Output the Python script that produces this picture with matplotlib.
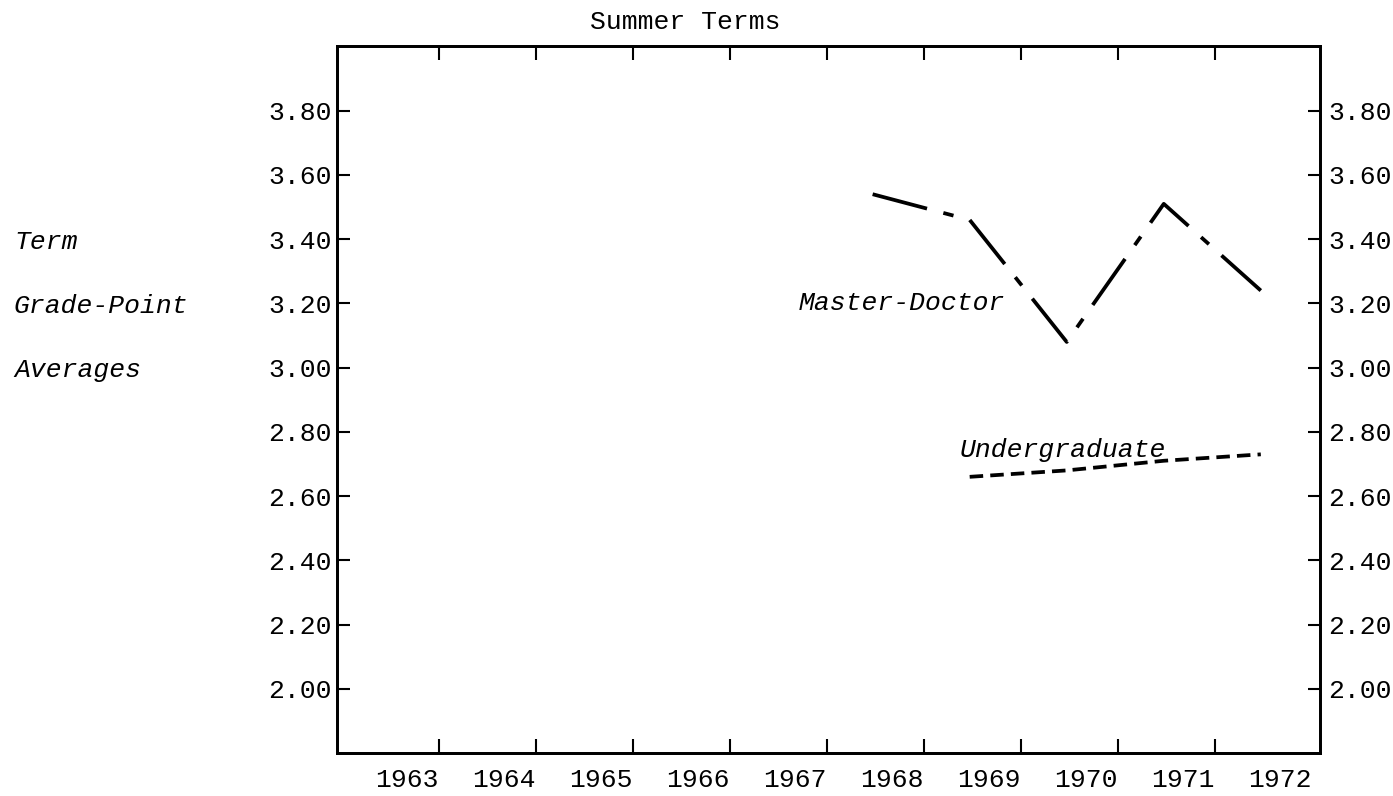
import matplotlib
matplotlib.use('Agg')
import matplotlib.pyplot as plt
import matplotlib.transforms as mtransforms

# data
years = [1963, 1964, 1965, 1966, 1967, 1968, 1969, 1970, 1971, 1972]
md_years = [1968, 1969, 1970, 1971, 1972]
md_gpa = [3.54, 3.46, 3.08, 3.51, 3.24]
ug_years = [1969, 1970, 1971, 1972]
ug_gpa = [2.66, 2.68, 2.71, 2.73]
gpa_ticks = [2.00, 2.20, 2.40, 2.60, 2.80, 3.00, 3.20, 3.40, 3.60, 3.80]
gpa_labels = ['2.00', '2.20', '2.40', '2.60', '2.80', '3.00', '3.20', '3.40', '3.60', '3.80']
side_words = ['Term', 'Grade-Point', 'Averages']

plt.rcParams['font.family'] = ['Liberation Mono', 'DejaVu Sans Mono']

fig = plt.figure(figsize=(13.93, 7.96), dpi=100)
ax = fig.add_axes([0.2419, 0.054, 0.7057, 0.8876])

# year labels sit a bit right of the plotted points, ticks mark year boundaries
label_shift = 0.2
ax.set_xlim(1962.48, 1972.61)
ax.set_ylim(1.80, 4.00)

ax.plot(md_years, md_gpa, color='black', lw=2.7,
        linestyle=(0, (15, 4.5, 2.8, 4.5)))
ax.plot(ug_years, ug_gpa, color='black', lw=2.7,
        linestyle=(0, (3.6, 1.9)))

ax.set_xticks([y + label_shift + 0.33 for y in years[:-1]])
ax.set_xticklabels([])
ax.set_xticks([y + label_shift for y in years], minor=True)
ax.set_xticklabels([str(y) for y in years], minor=True)
ax.tick_params(axis='x', which='major', direction='in', length=10, width=1.5,
               top=True, bottom=True)
ax.tick_params(axis='x', which='minor', length=0, pad=11, labelsize=19)

ax.set_yticks(gpa_ticks)
ax.set_yticklabels(gpa_labels)
ax.tick_params(axis='y', direction='in', length=9, width=1.5, pad=3.5,
               labelsize=19)

ax2 = ax.twinx()
ax2.set_ylim(ax.get_ylim())
ax2.set_yticks(gpa_ticks)
ax2.set_yticklabels(gpa_labels)
ax2.tick_params(axis='y', direction='in', length=9, width=1.5, pad=6,
                labelsize=19)

for a in (ax, ax2):
    for s in a.spines.values():
        s.set_linewidth(2.0)

ax.text(1967.24, 3.18, 'Master-Doctor', style='italic', fontsize=19,
        ha='left', va='baseline')
ax.text(1968.90, 2.722, 'Undergraduate', style='italic', fontsize=19,
        ha='left', va='baseline')

trans = mtransforms.blended_transform_factory(fig.transFigure, ax.transData)
for word, yv in zip(side_words, [3.40, 3.20, 3.00]):
    fig.text(0.01, yv, word, transform=trans, style='italic', fontsize=19,
             ha='left', va='center_baseline')

fig.text(0.4917, 0.972, 'Summer Terms', fontsize=19, ha='center', va='center')

fig.savefig('out.png', dpi=100)
